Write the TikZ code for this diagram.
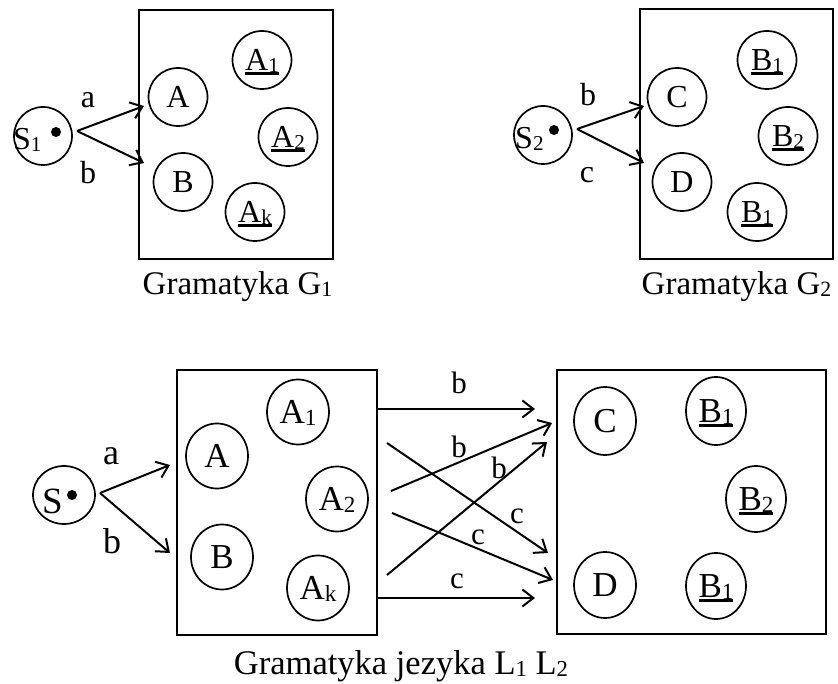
\documentclass[tikz,border=0pt]{standalone}
\usepackage{fontspec}
\setmainfont{Liberation Serif}
\usetikzlibrary{arrows.meta,shapes.geometric}
\newcommand\sbs[1]{\raisebox{-0.06em}{\scalebox{0.66}{#1}}}
\newcommand\ulin[1]{\setbox0\hbox{#1}\rlap{\rule[-0.13em]{\wd0}{0.08em}}\box0}
\begin{document}
\begin{tikzpicture}[x=1pt,y=-1pt,
  arr/.style={line width=2pt,-{Straight Barb[length=11pt,width=17pt]}},
  box/.style={draw,rectangle,line width=2.2pt,inner sep=0pt},
  cn/.style 2 args={draw,ellipse,line width=1.7pt,inner sep=0pt,minimum width=#1,minimum height=#2},
  ft/.style={inner sep=0pt,font=\fontsize{32}{38}\selectfont},
  fb/.style={inner sep=0pt,font=\fontsize{35}{42}\selectfont},
  fl/.style={inner sep=0pt,font=\fontsize{31}{37}\selectfont},
  ctop/.style={cn={59pt}{58pt},ft,text height=21pt,text depth=0pt},
  cbot/.style={cn={62pt}{65pt},fb,text height=23pt,text depth=0pt},
  dotc/.style={fill=black}]
\useasboundingbox (0,0) rectangle (838,684);
% ---------- top left: G1
\node[box,minimum width=194pt,minimum height=249pt] (G1box) at (236,134.5) {};
\node[cn={58pt}{58pt}] (S1c) at (43,136) {};
\node[ft,anchor=base west] (S1t) at (13,150) {S\sbs{1}};
\fill[dotc] (56,132) circle (5pt);
\node[ctop] (A) at (178,97) {A};
\node[ctop] (B) at (183,182) {B};
\node[ctop] (A1) at (262,60) {\ulin{A\sbs{1}}};
\node[ctop] (A2) at (288,137) {\ulin{A\sbs{2}}};
\node[ctop] (Ak) at (255,212) {\ulin{A\sbs{k}}};
\coordinate (s1o) at (77,131);
\coordinate (g1a) at (144,106);
\coordinate (g1b) at (144,163);
\draw[arr] (s1o) -- (g1a);
\draw[arr] (s1o) -- (g1b);
\node[ft] (la1) at (88,100) {a};
\node[ft] (lb1) at (88,173) {b};
\node[inner sep=0pt,font=\fontsize{33}{40}\selectfont,anchor=base] (cap1) at (237.5,295) {Gramatyka G\sbs{1}};
% ---------- top right: G2
\node[box,minimum width=193pt,minimum height=250pt] (G2box) at (736.5,134) {};
\node[cn={58pt}{58pt}] (S2c) at (543,135) {};
\node[ft,anchor=base west] (S2t) at (515,149) {S\sbs{2}};
\fill[dotc] (554,130) circle (5pt);
\node[ctop] (C) at (677,97) {C};
\node[ctop] (D) at (682,182) {D};
\node[ctop] (B1) at (767,60) {\ulin{B\sbs{1}}};
\node[ctop] (B2) at (788,136) {\ulin{B\sbs{2}}};
\node[ctop] (B1x) at (757,212) {\ulin{B\sbs{1}}};
\coordinate (s2o) at (577,129);
\coordinate (g2a) at (644,106);
\coordinate (g2b) at (644,163);
\draw[arr] (s2o) -- (g2a);
\draw[arr] (s2o) -- (g2b);
\node[ft] (lb2) at (588,95) {b};
\node[ft] (lc2) at (587,175) {c};
\node[inner sep=0pt,font=\fontsize{33}{40}\selectfont,anchor=base] (cap2) at (736.5,295) {Gramatyka G\sbs{2}};
% ---------- bottom
\node[box,minimum width=200pt,minimum height=265pt] (LB) at (277,502.5) {};
\node[box,minimum width=269pt,minimum height=264pt] (RB) at (691.5,502) {};
\node[cn={62pt}{58pt}] (Sc) at (64,495) {};
\node[inner sep=0pt,font=\fontsize{37}{44}\selectfont,anchor=base west] (St) at (42,513) {S};
\fill[dotc] (72,495) circle (5pt);
\coordinate (so) at (100,493);
\coordinate (la) at (170,465);
\coordinate (lbp) at (170,553);
\draw[arr] (so) -- (la);
\draw[arr] (so) -- (lbp);
\node[inner sep=0pt,font=\fontsize{36}{42}\selectfont] (l3a) at (111,456) {a};
\node[inner sep=0pt,font=\fontsize{36}{42}\selectfont] (l3b) at (112,541) {b};
\node[cbot] (bA) at (217,456) {A};
\node[cbot] (bB) at (222,557) {B};
\node[cbot] (bA1) at (298,412) {A\sbs{1}};
\node[cbot] (bA2) at (337,499) {A\sbs{2}};
\node[cbot] (bAk) at (318,588) {A\sbs{k}};
\node[cbot,minimum height=68pt] (bC) at (605,421) {C};
\node[cbot,minimum height=66pt] (bD) at (605,585) {D};
\node[cbot,minimum width=60pt,minimum height=68pt] (bB1) at (716,411) {\ulin{B\sbs{1}}};
\node[cbot,minimum width=60pt,minimum height=66pt] (bB2) at (756,499) {\ulin{B\sbs{2}}};
\node[cbot,minimum width=60pt,minimum height=66pt] (bB1x) at (716,586) {\ulin{B\sbs{1}}};
% middle connectors
\coordinate (h1s) at (377,409); \coordinate (h1e) at (535,409);
\coordinate (h2s) at (377,598); \coordinate (h2e) at (535,598);
\coordinate (x1s) at (391,491); \coordinate (x1e) at (552,423);
\coordinate (x2s) at (387,443); \coordinate (x2e) at (548,553);
\coordinate (x3s) at (392,513); \coordinate (x3e) at (553,580);
\coordinate (x4s) at (387,575); \coordinate (x4e) at (547,442);
\draw[arr] (h1s) -- (h1e);
\draw[arr] (h2s) -- (h2e);
\draw[arr] (x1s) -- (x1e);
\draw[arr] (x2s) -- (x2e);
\draw[arr] (x3s) -- (x3e);
\draw[arr] (x4s) -- (x4e);
\node[fl] (m1) at (459,383) {b};
\node[fl] (m2) at (457,581) {c};
\node[fl] (m3) at (459,447) {b};
\node[fl] (m4) at (499,468) {b};
\node[fl] (m5) at (517,516) {c};
\node[fl] (m6) at (478,537) {c};
\node[inner sep=0pt,font=\fontsize{34.5}{41}\selectfont,anchor=base] (cap3) at (401,674) {Gramatyka jezyka L\sbs{1} L\sbs{2}};
\end{tikzpicture}
\end{document}
